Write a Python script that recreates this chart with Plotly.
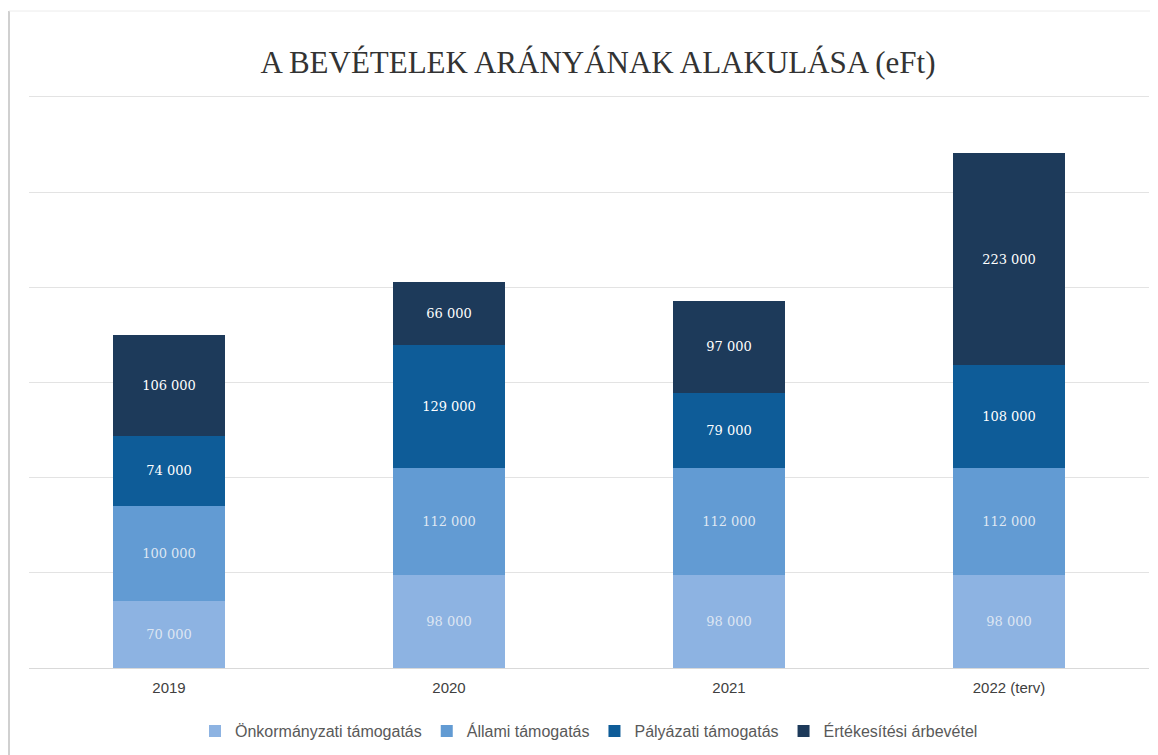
import plotly.graph_objects as go

categories = ["2019", "2020", "2021", "2022 (terv)"]
series_names = ["Önkormányzati támogatás", "Állami támogatás", "Pályázati támogatás", "Értékesítési árbevétel"]
onkormanyzati = [70000, 98000, 98000, 98000]
allami = [100000, 112000, 112000, 112000]
palyazati = [74000, 129000, 79000, 108000]
ertekesitesi = [106000, 66000, 97000, 223000]

values = [onkormanyzati, allami, palyazati, ertekesitesi]
colors = ["#8db3e2", "#629bd3", "#0e5c98", "#1d3a5a"]
text_colors = ["#dde6f2", "#dde6f2", "#ffffff", "#ffffff"]

W, H = 1150, 747
L, R, T, B = 21, 9, 86, 87
PW, PH = W - L - R, H - T - B

fig = go.Figure()
for name, vals, col, tcol in zip(series_names, values, colors, text_colors):
    fig.add_trace(go.Bar(
        name=name, x=categories, y=vals,
        marker=dict(color=col, line=dict(width=0)),
        texttemplate="%{y:,}", textposition="inside", insidetextanchor="middle",
        textfont=dict(family="DejaVu Serif, serif", size=13, color=tcol),
        constraintext="none",
    ))

fig.update_layout(
    barmode="stack",
    bargap=0.6,
    separators=", ",
    width=W, height=H,
    margin=dict(l=L, r=R, t=T, b=B, autoexpand=False),
    paper_bgcolor="white", plot_bgcolor="white",
    title=dict(text="A BEVÉTELEK ARÁNYÁNAK ALAKULÁSA (eFt)", x=590 / W, xanchor="center",
               y=1 - 54 / H, yanchor="middle",
               font=dict(family="Liberation Serif, serif", size=31, color="#333333")),
    legend=dict(orientation="h", x=0.5, xanchor="center", y=-0.11, yanchor="middle",
                font=dict(family="Liberation Sans, sans-serif", size=16, color="#595959"),
                itemwidth=30, traceorder="normal"),
    showlegend=True,
)
fig.update_xaxes(showgrid=False, showline=True, linecolor="#d9d9d9", linewidth=1,
                 tickfont=dict(family="Liberation Sans, sans-serif", size=15, color="#404040"),
                 ticks="", ticklabelstandoff=6)
fig.update_yaxes(range=[0, 603000], dtick=100000, showgrid=True, gridcolor="#e3e3e3",
                 gridwidth=1, showticklabels=False, zeroline=False)
# faint frame on left and top edges
fig.add_shape(type="line", xref="paper", yref="paper",
              x0=-(L - 1) / PW, x1=-(L - 1) / PW, y0=-B / PH, y1=1 + (T - 3) / PH,
              line=dict(color="#d0d0d0", width=2))
fig.add_shape(type="line", xref="paper", yref="paper",
              x0=-(L - 1) / PW, x1=1 + R / PW, y0=1 + (T - 3) / PH, y1=1 + (T - 3) / PH,
              line=dict(color="#ececec", width=1))

fig.write_html("out.html")
